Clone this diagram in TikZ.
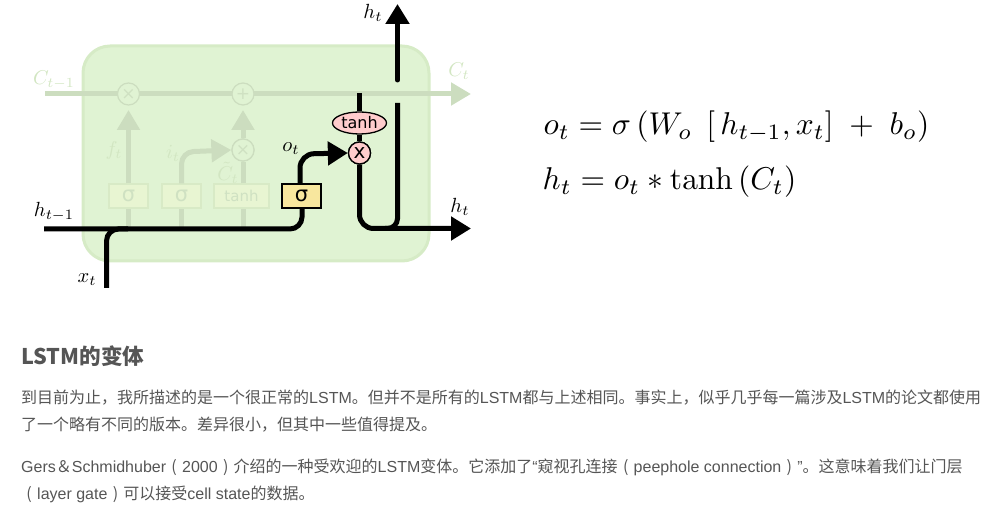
\documentclass[tikz,border=0pt]{standalone}
\usepackage[no-math]{fontspec}
\setmainfont{Liberation Sans}
\newfontfamily\cjk{Noto Sans CJK SC}
\newfontfamily\djv{DejaVu Sans}
\usetikzlibrary{arrows.meta,shapes.geometric}
\definecolor{cellfill}{HTML}{E0F3D3}
\definecolor{celledge}{HTML}{D6EBC6}
\definecolor{fadeline}{HTML}{CCDDBF}
\definecolor{fadebox}{HTML}{E8F5D2}
\definecolor{fadeedge}{HTML}{D8EAC6}
\definecolor{fadetext}{HTML}{D2E6C2}
\definecolor{fadeglyph}{HTML}{CFE1C2}
\definecolor{bodytext}{HTML}{555555}
\definecolor{gatefill}{HTML}{F8E79E}
\definecolor{opfill}{HTML}{FFCCCC}
\newcommand{\lpar}{\makebox[16pt][c]{\cjk (}}
\newcommand{\rpar}{\makebox[16pt][c]{\cjk )}}
\tikzset{
  x=1pt,y=-1pt,
  fadewire/.style={draw=fadeline,line width=5pt},
  fadearrow/.style={fadewire,-{Triangle[length=20pt,width=22pt]}},
  blackwire/.style={draw=black,line width=5pt},
  blackarrow/.style={blackwire,-{Triangle[length=20pt,width=23pt]}},
  fadeop/.style={circle,draw=fadeline,line width=1.2pt,fill=cellfill,minimum size=22pt,inner sep=0pt,text=fadeglyph,font=\djv\fontsize{17}{17}\selectfont},
  fadelayer/.style={draw=fadeedge,line width=1.2pt,fill=fadebox,minimum height=24pt,inner sep=0pt,text=fadeglyph},
  fadelabel/.style={text=fadetext,inner sep=0pt,font=\fontsize{10}{12}\selectfont,scale=2,transform shape},
  mathlabel/.style={text=black,inner sep=0pt,font=\fontsize{10}{12}\selectfont,scale=2.05,transform shape},
  gatebox/.style={draw=black,line width=1.3pt,fill=gatefill,minimum width=39pt,minimum height=24pt,inner sep=0pt,font=\djv\fontsize{21}{21}\selectfont},
  opcircle/.style={circle,draw=black,line width=1.3pt,fill=opfill,minimum size=22pt,inner sep=0pt,font=\djv\fontsize{20}{20}\selectfont},
  body/.style={anchor=base west,inner sep=0pt,text=bodytext,font=\fontsize{16}{16}\selectfont},
  eq/.style={anchor=base west,inner sep=0pt,text=black,font=\fontsize{10}{12}\selectfont,scale=3.15,transform shape},
}
\begin{document}
\begin{tikzpicture}
\useasboundingbox (0,0) rectangle (1004,526);
% cell
\node[name=cell,draw=celledge,line width=3pt,fill=cellfill,rounded corners=27pt,minimum width=346pt,minimum height=215pt,inner sep=0pt] at (256,153.5) {};
% faded parts
\coordinate (cin) at (45,94);
\coordinate (cout) at (471,94);
\draw[fadearrow] (cin) -- (cout);
\node[fadeop] (mulf) at (128.5,94) {×};
\node[fadeop] (addc) at (243,94) {+};
\node[fadeop] (muli) at (243,150) {×};
\node[fadelayer,minimum width=39pt,font=\djv\fontsize{21}{21}\selectfont] (sf) at (128.5,196) {σ};
\node[fadelayer,minimum width=39pt,font=\djv\fontsize{21}{21}\selectfont] (si) at (181.5,196) {σ};
\node[fadelayer,minimum width=55pt,font=\djv\fontsize{15}{15}\selectfont] (tc) at (241.5,196) {tanh};
\coordinate (fb) at (128.5,229);
\coordinate (ib) at (181.5,229);
\coordinate (tb) at (243,229);
\draw[fadewire] (fb) -- (sf.south);
\draw[fadewire] (ib) -- (si.south);
\draw[fadewire] (tb) -- (tb|-tc.south);
\draw[fadearrow] (sf.north) -- (128.5,110);
\draw[fadewire] (tc.north-|muli) -- (muli.south);
\draw[fadearrow] (muli.north) -- (243,110);
\draw[fadearrow,rounded corners=12pt] (si.north) -- (181.5,152) -- (muli.west);
\node[fadeop] at (243,150) {×};
\node[fadelabel] (lc1) at (54,80) {$C_{t-1}$};
\node[fadelabel] (lc2) at (459,71) {$C_t$};
\node[fadelabel] (lf) at (114,151) {$f_t$};
\node[fadelabel] (li) at (173,153) {$i_t$};
\node[fadelabel] (lct) at (228,173) {$\tilde{C}_t$};
% black parts
\node[gatebox] (so) at (301.5,196) {σ};
\node[opcircle] (mulo) at (359.5,153) {x};
\node[ellipse,draw=black,line width=1.3pt,fill=opfill,minimum width=54pt,minimum height=22pt,inner sep=0pt,font=\djv\fontsize{16}{16}\selectfont] (th) at (359.5,123) {tanh};
\coordinate (hin) at (44,229);
\coordinate (xin) at (106.5,288);
\coordinate (hout) at (471,228.5);
\coordinate (htop) at (397.5,4);
\coordinate (hgap) at (397.5,80);
\coordinate (vlow) at (397.5,103);
\coordinate (tht) at (359.5,93);
\draw[blackwire,rounded corners=12pt] (xin) -- (106.5,229) -- (128,229);
\draw[blackwire,rounded corners=12pt] (hin) -- (302,229) -- (302,208);
\draw[blackarrow,rounded corners=14pt] (300,184) -- (300,154) -- (mulo.west);
\draw[blackwire] (tht) -- (th.north);
\draw[blackwire] (th.south) -- (mulo.north);
\draw[blackarrow,rounded corners=14pt] (mulo.south) -- (359.5,228.5) -- (hout);
\draw[blackwire,rounded corners=10pt] (vlow) -- (397.5,228.5) -- (385,228.5);
\draw[blackwire,-{Triangle[length=20pt,width=23pt]},line cap=round] (hgap) -- (htop);
\node[opcircle] at (359.5,153) {x};
\node[mathlabel] (lh1) at (54,212) {$h_{t-1}$};
\node[mathlabel] (lx) at (87,280) {$x_t$};
\node[mathlabel] (lo) at (291,149) {$o_t$};
\node[mathlabel] (lh2) at (373,13) {$h_t$};
\node[mathlabel] (lh3) at (460,207) {$h_t$};
% equations
\node[eq] (e1) at (543,135) {$o_t=\sigma\left(W_o\ \left[\,h_{t-1},x_t\right]\ +\ b_o\right)$};
\node[eq] (e2) at (542,190) {$h_t=o_t*\tanh\left(C_t\right)$};
% text
\node[anchor=base west,inner sep=0pt,text=bodytext,font=\cjk\bfseries\fontsize{21.6}{22}\selectfont] (head) at (21,365) {LSTM的变体};
\node[body] (p1) at (21,404) {{\cjk 到目前为止，我所描述的是一个很正常的}LSTM{\cjk 。但并不是所有的}LSTM{\cjk 都与上述相同。事实上，似乎几乎每一篇涉及}LSTM{\cjk 的论文都使用}};
\node[body] (p2) at (21,431) {{\cjk 了一个略有不同的版本。差异很小，但其中一些值得提及。}};
\node[body] (p3) at (21,472) {Gers{\cjk ＆}Schmidhuber\lpar 2000\rpar{\cjk 介绍的一种受欢迎的}LSTM{\cjk 变体。它添加了}“{\cjk 窥视孔连接}\lpar peephole connection\rpar ”{\cjk 。这意味着我们让门层}};
\node[body] (p4) at (21,499) {\lpar layer gate\rpar{\cjk 可以接受}cell state{\cjk 的数据。}};
\end{tikzpicture}
\end{document}
